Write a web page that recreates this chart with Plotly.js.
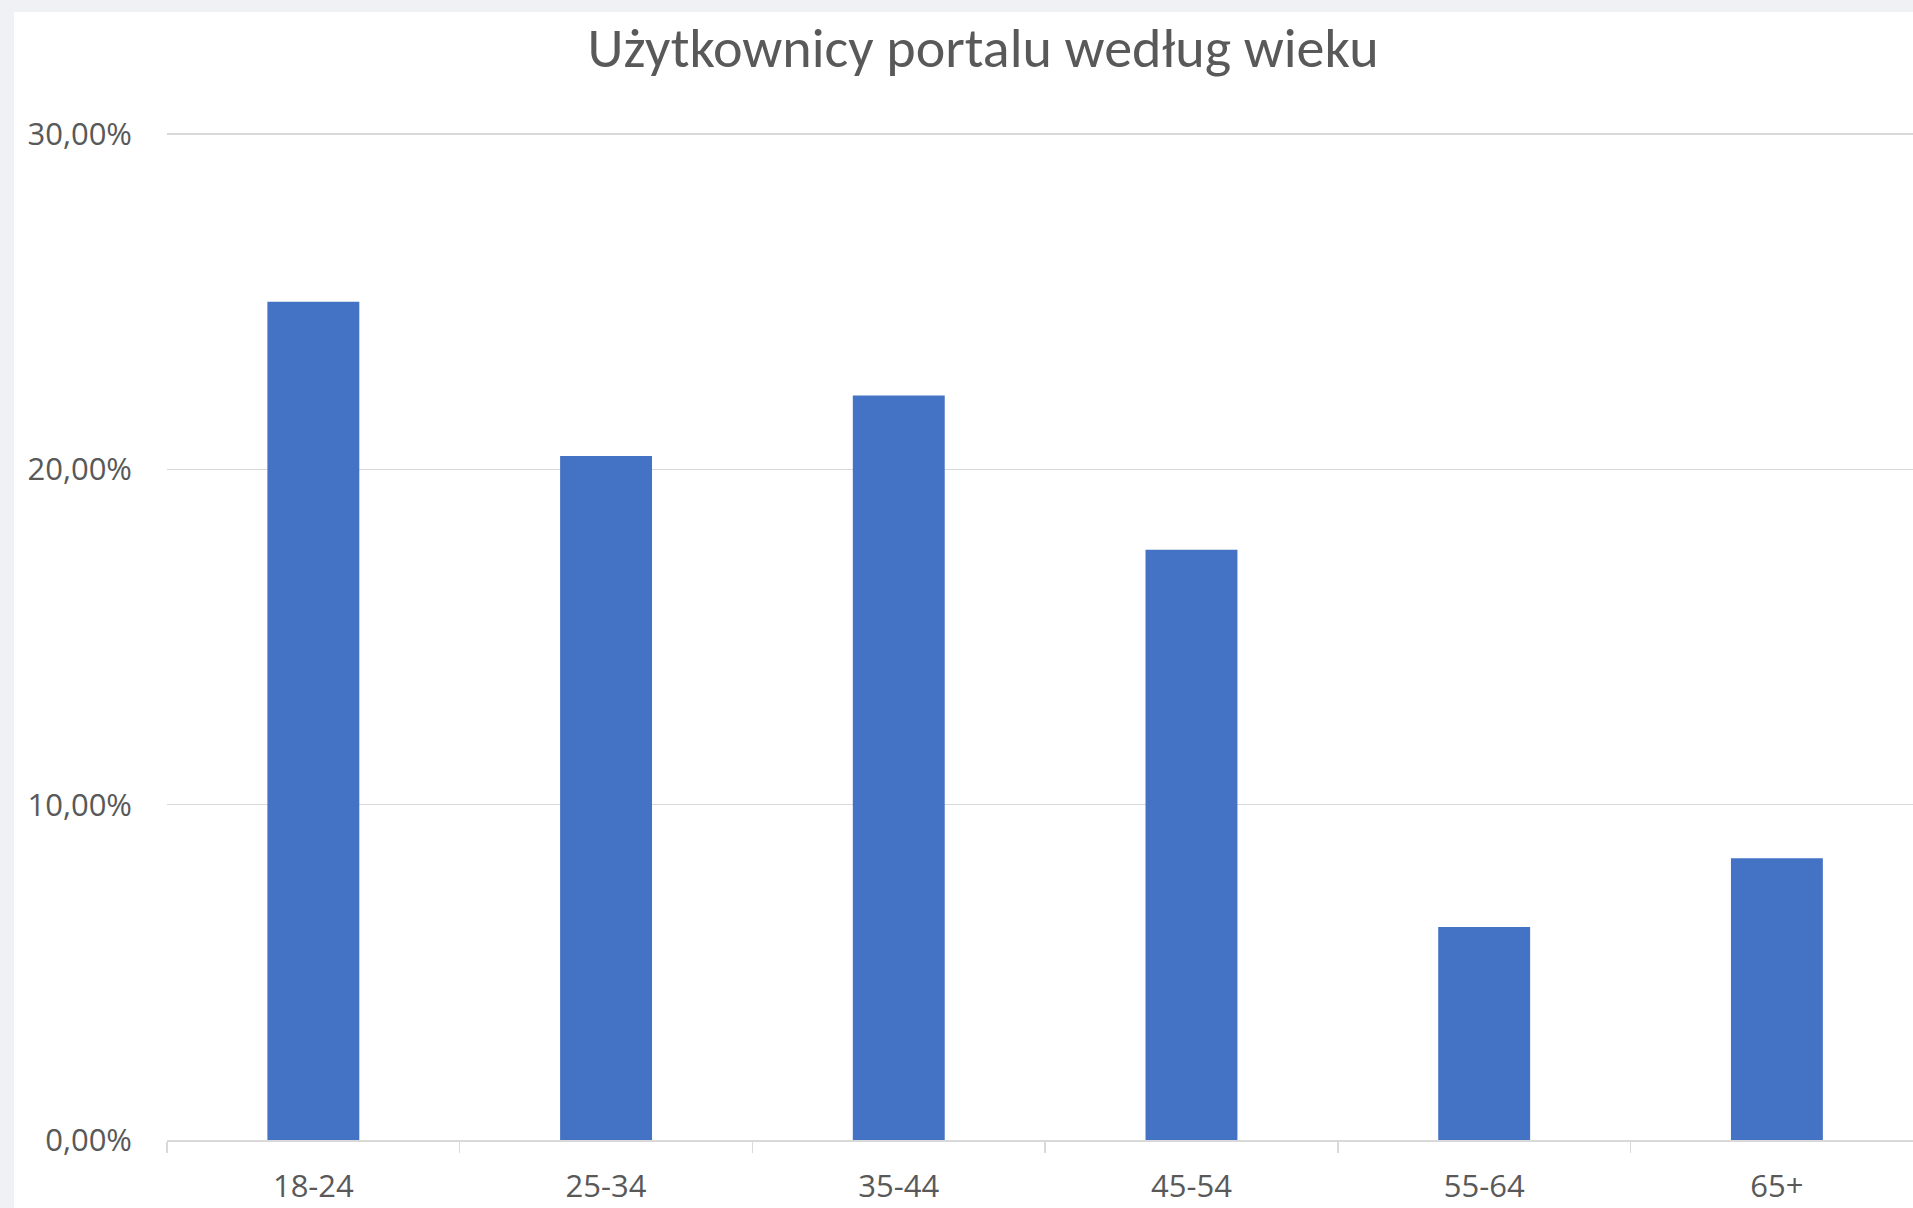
<!DOCTYPE html>
<html>
<head>
<meta charset="utf-8">
<script src="https://cdn.plot.ly/plotly-3.0.1.min.js"></script>
<style>
  html, body { margin: 0; padding: 0; background: #eff1f5; overflow: hidden; }
  #chart { position: absolute; left: 14px; top: 12px; width: 1899px; height: 1196px; background: #ffffff; }
</style>
</head>
<body>
<div id="chart"></div>
<script>
const categories = ["18-24", "25-34", "35-44", "45-54", "55-64", "65+"];
const shares = [0.250, 0.204, 0.222, 0.176, 0.0635, 0.084];
const chartTitle = "Użytkownicy portalu według wieku";

const trace = {
  type: "bar",
  x: categories,
  y: shares,
  width: 0.314,
  marker: { color: "#4472c4", line: { width: 0 } },
  hoverinfo: "x+y"
};

const layout = {
  width: 1899,
  height: 1196,
  paper_bgcolor: "#ffffff",
  plot_bgcolor: "#ffffff",
  margin: { l: 153, r: 0, t: 121, b: 68.3, pad: 0 },
  separators: ",.",
  showlegend: false,
  title: {
    text: chartTitle,
    font: { family: "Carlito, Calibri, Lato, sans-serif", size: 56, color: "#595959" },
    x: 0.5103, xref: "container", xanchor: "center",
    y: 0.9705, yref: "container", yanchor: "middle"
  },
  xaxis: {
    type: "category",
    range: [-0.5, 5.465],
    showline: true,
    linecolor: "#d9d9d9",
    linewidth: 1.5,
    ticks: "outside",
    tickson: "boundaries",
    ticklen: 11,
    tickcolor: "#d9d9d9",
    tickwidth: 1.5,
    ticklabelstandoff: 18,
    tickfont: { family: "Open Sans, Noto Sans, sans-serif", size: 31, color: "#595959" },
    showgrid: false,
    fixedrange: true
  },
  yaxis: {
    range: [0, 0.3003],
    dtick: 0.1,
    tick0: 0,
    tickformat: ".2%",
    showgrid: true,
    gridcolor: "#d9d9d9",
    gridwidth: 1.5,
    zeroline: false,
    showline: false,
    ticks: "",
    ticklabelstandoff: 34,
    tickfont: { family: "Open Sans, Noto Sans, sans-serif", size: 31, color: "#595959" },
    fixedrange: true
  },
  bargap: 0.686
};

Plotly.newPlot("chart", [trace], layout, { displayModeBar: false, staticPlot: true });
</script>
</body>
</html>
